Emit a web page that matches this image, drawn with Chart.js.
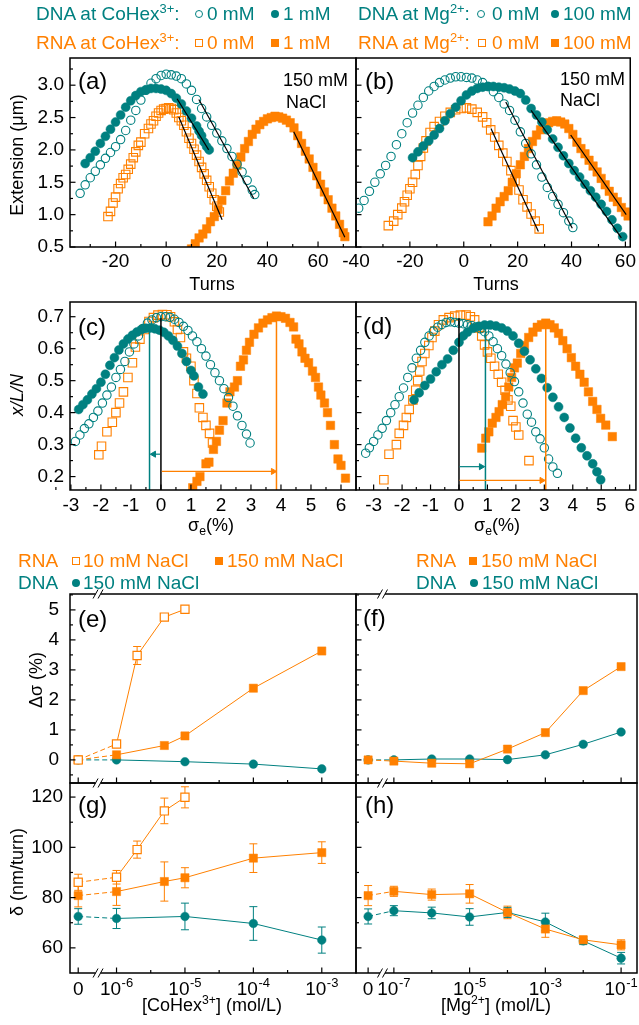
<!DOCTYPE html>
<html lang="en">
<head>
<meta charset="UTF-8">
<title>DNA / RNA twist response</title>
<script src="https://cdn.jsdelivr.net/npm/chart.js"></script>
<style>
  body { margin: 0; background: #fff; }
  #page { position: relative; width: 639px; height: 1025px; overflow: hidden; background: #fff;
          font-family: "Liberation Sans", Arial, sans-serif; }
  canvas { position: absolute; left: 0; top: 0; }
  .t { position: absolute; white-space: nowrap; line-height: 1; font-size: 18px; color: #000;
       transform: translate(-50%, -50%); }
  .r { transform: translate(-50%, -50%) rotate(-90deg); }
  .l { position: absolute; white-space: nowrap; line-height: 1; font-size: 19px; transform: translateY(-50%); }
  .p { position: absolute; white-space: nowrap; line-height: 1; font-size: 24px; transform: translateY(-50%); }
  sup { font-size: 0.68em; vertical-align: 0; position: relative; top: -0.55em; }
  sub { font-size: 0.68em; vertical-align: 0; position: relative; top: 0.3em; }
  .s { position: absolute; width: 8px; height: 8px; box-sizing: border-box; transform: translateY(-50%); }
</style>
</head>
<body>
<div id="page">
  <canvas id="ca" width="639" height="1025"></canvas>
  <canvas id="cb" width="639" height="1025"></canvas>
  <canvas id="cc" width="639" height="1025"></canvas>
  <canvas id="cd" width="639" height="1025"></canvas>
  <canvas id="ce" width="639" height="1025"></canvas>
  <canvas id="cf" width="639" height="1025"></canvas>
  <canvas id="cg" width="639" height="1025"></canvas>
  <canvas id="ch" width="639" height="1025"></canvas>

  <!-- top legends -->
  <div class="l" style="left:36px;top:13px;color:#008080">DNA at CoHex<sup>3+</sup>:</div>
  <div class="s" style="left:195px;top:14px;border:1.3px solid #008080;border-radius:50%"></div>
  <div class="l" style="left:207px;top:13px;color:#008080">0 mM</div>
  <div class="s" style="left:271px;top:14px;background:#008080;border-radius:50%"></div>
  <div class="l" style="left:283px;top:13px;color:#008080">1 mM</div>
  <div class="l" style="left:36px;top:42px;color:#ff8000">RNA at CoHex<sup>3+</sup>:</div>
  <div class="s" style="left:195px;top:43px;border:1.3px solid #ff8000"></div>
  <div class="l" style="left:207px;top:42px;color:#ff8000">0 mM</div>
  <div class="s" style="left:271px;top:43px;background:#ff8000"></div>
  <div class="l" style="left:283px;top:42px;color:#ff8000">1 mM</div>

  <div class="l" style="left:358px;top:13px;color:#008080">DNA at Mg<sup>2+</sup>:</div>
  <div class="s" style="left:477px;top:14px;border:1.3px solid #008080;border-radius:50%"></div>
  <div class="l" style="left:492px;top:13px;color:#008080">0 mM</div>
  <div class="s" style="left:551px;top:14px;background:#008080;border-radius:50%"></div>
  <div class="l" style="left:563px;top:13px;color:#008080">100 mM</div>
  <div class="l" style="left:358px;top:42px;color:#ff8000">RNA at Mg<sup>2+</sup>:</div>
  <div class="s" style="left:478px;top:43px;border:1.3px solid #ff8000"></div>
  <div class="l" style="left:492px;top:42px;color:#ff8000">0 mM</div>
  <div class="s" style="left:551px;top:43px;background:#ff8000"></div>
  <div class="l" style="left:563px;top:42px;color:#ff8000">100 mM</div>

  <!-- middle legends -->
  <div class="l" style="left:18px;top:560px;color:#ff8000">RNA</div>
  <div class="s" style="left:72px;top:561px;border:1.3px solid #ff8000"></div>
  <div class="l" style="left:83px;top:560px;color:#ff8000">10 mM NaCl</div>
  <div class="s" style="left:215px;top:561px;background:#ff8000"></div>
  <div class="l" style="left:227px;top:560px;color:#ff8000">150 mM NaCl</div>
  <div class="l" style="left:18px;top:582px;color:#008080">DNA</div>
  <div class="s" style="left:72px;top:583px;background:#008080;border-radius:50%"></div>
  <div class="l" style="left:83px;top:582px;color:#008080">150 mM NaCl</div>

  <div class="l" style="left:416px;top:560px;color:#ff8000">RNA</div>
  <div class="s" style="left:469px;top:561px;background:#ff8000"></div>
  <div class="l" style="left:481px;top:560px;color:#ff8000">150 mM NaCl</div>
  <div class="l" style="left:416px;top:582px;color:#008080">DNA</div>
  <div class="s" style="left:470px;top:583px;background:#008080;border-radius:50%"></div>
  <div class="l" style="left:482px;top:582px;color:#008080">150 mM NaCl</div>

  <!-- panel letters and notes -->
  <div class="p" style="left:78px;top:81px">(a)</div>
  <div class="p" style="left:365px;top:81px">(b)</div>
  <div class="p" style="left:78px;top:327px">(c)</div>
  <div class="p" style="left:363px;top:326px">(d)</div>
  <div class="p" style="left:78px;top:619px">(e)</div>
  <div class="p" style="left:363px;top:618px">(f)</div>
  <div class="p" style="left:78px;top:805px">(g)</div>
  <div class="p" style="left:365px;top:805px">(h)</div>
  <div class="l" style="left:283px;top:80px;font-size:18px">150 mM</div>
  <div class="l" style="left:286px;top:102px;font-size:18px">NaCl</div>
  <div class="l" style="left:560px;top:79px;font-size:18px">150 mM</div>
  <div class="l" style="left:560px;top:100px;font-size:18px">NaCl</div>

  <!-- axis titles -->
  <div class="t r" style="left:17px;top:155px">Extension (μm)</div>
  <div class="t" style="left:212px;top:284px">Turns</div>
  <div class="t" style="left:496px;top:284px">Turns</div>
  <div class="t r" style="left:17px;top:395px;font-style:italic">x/L/N</div>
  <div class="t" style="left:211px;top:525px">σ<sub>e</sub>(%)</div>
  <div class="t" style="left:497px;top:525px">σ<sub>e</sub>(%)</div>
  <div class="t r" style="left:36px;top:680px">Δσ (%)</div>
  <div class="t r" style="left:17px;top:872px">δ (nm/turn)</div>
  <div class="t" style="left:212px;top:1005px">[CoHex<sup>3+</sup>] (mol/L)</div>
  <div class="t" style="left:496px;top:1005px">[Mg<sup>2+</sup>] (mol/L)</div>
</div>

<script>
// ---- (a) extension vs turns, CoHex ----
const aDna0 = [[-34,1.33],[-32,1.46],[-30,1.57],[-28,1.67],[-26,1.77],[-24,1.87],[-22,1.96],[-20,2.05],[-18,2.16],[-16,2.30],[-14,2.46],[-12,2.61],[-10,2.77],[-8,2.92],[-6,3.03],[-4,3.10],[-2,3.15],[0,3.17],[2,3.16],[4,3.14],[6,3.10],[8,3.02],[10,2.92],[12,2.78],[14,2.64],[16,2.51],[18,2.38],[20,2.26],[22,2.14],[24,2.02],[26,1.90],[28,1.78],[30,1.66],[32,1.53],[34,1.38],[35,1.31]];
const aDna1 = [[-32,1.79],[-30,1.88],[-28,1.98],[-26,2.10],[-24,2.21],[-22,2.32],[-20,2.43],[-18,2.54],[-16,2.66],[-14,2.76],[-12,2.84],[-10,2.90],[-8,2.93],[-6,2.95],[-4,2.95],[-2,2.94],[0,2.92],[2,2.87],[4,2.80],[6,2.71],[8,2.60],[10,2.49],[12,2.37],[13,2.29],[14,2.22],[15,2.12],[16,2.05],[17,2.00]];
const aRna0 = [[-23,0.97],[-22,1.05],[-21,1.18],[-20,1.27],[-19,1.40],[-18,1.48],[-17,1.57],[-16,1.62],[-15,1.70],[-14,1.78],[-13,1.88],[-12,1.97],[-11,2.07],[-10,2.12],[-8.5,2.25],[-7,2.33],[-6,2.40],[-5,2.45],[-4,2.52],[-3,2.57],[-2,2.61],[-1,2.63],[0,2.64],[1,2.65],[2,2.64],[3,2.62],[4,2.57],[5,2.50],[6,2.45],[7,2.38],[8,2.28],[9,2.18],[10,2.10],[11,2.01],[12,1.92],[13,1.82],[14,1.73],[15,1.63],[16,1.53],[17,1.43],[18,1.33],[19,1.23],[20,1.13],[21,1.04]];
const aRna1 = [[10,0.47],[11.5,0.55],[13,0.64],[14.5,0.70],[16,0.78],[17.5,0.89],[19,0.97],[20.5,1.08],[22,1.22],[23.5,1.37],[25,1.52],[26.5,1.64],[28,1.76],[29.5,1.89],[31,2.02],[32.5,2.13],[34,2.24],[35.5,2.32],[37,2.39],[38.5,2.44],[40,2.48],[41.5,2.50],[43,2.52],[44.5,2.51],[46,2.49],[47.5,2.46],[49,2.42],[50.5,2.34],[52,2.22],[53.5,2.10],[55,1.98],[56.5,1.86],[58,1.73],[59.5,1.60],[61,1.47],[62.5,1.35],[64,1.23],[65.5,1.10],[67,0.98],[68.5,0.85],[70,0.72],[70.6,0.66]];
const aFitDna1 = [[4.3,2.79],[16.8,2.00]];
const aFitDna0 = [[12.9,2.78],[34.6,1.25]];
const aFitRna0 = [[5,2.51],[22.1,0.92]];
const aFitRna1 = [[50.4,2.28],[70.6,0.65]];

// ---- (b) extension vs turns, Mg ----
const bDna0 = [[-39,1.10],[-37,1.22],[-35,1.36],[-33,1.50],[-31,1.63],[-29,1.76],[-27,1.90],[-25,2.08],[-23,2.25],[-21,2.42],[-19,2.57],[-17,2.69],[-15,2.81],[-13,2.91],[-11,2.98],[-9,3.04],[-7,3.08],[-5,3.11],[-3,3.13],[-1,3.13],[1,3.12],[3,3.11],[5,3.08],[7,3.04],[9,2.98],[11,2.90],[13,2.81],[15,2.71],[17,2.61],[19,2.46],[21,2.28],[23,2.10],[25,1.94],[27,1.77],[29,1.58],[31,1.42],[33,1.28],[35,1.16],[37,1.03],[39,0.90],[40.5,0.80]];
const bDna100 = [[-19,1.88],[-17,1.97],[-15,2.06],[-13,2.14],[-11,2.23],[-9,2.33],[-7,2.45],[-5,2.56],[-3,2.66],[-1,2.76],[1,2.85],[3,2.91],[5,2.95],[7,2.97],[9,2.98],[11,2.98],[13,2.97],[15,2.96],[17,2.94],[19,2.91],[21,2.87],[23,2.77],[25,2.64],[27,2.54],[29,2.43],[31,2.31],[33,2.17],[35,2.04],[37,1.91],[39,1.79],[41,1.68],[43,1.58],[45,1.47],[47,1.37],[49,1.27],[51,1.16],[53,1.05],[55,0.92],[57,0.79],[59,0.66]];
const bRna0 = [[-28,0.83],[-26,0.90],[-24.5,1.00],[-23,1.10],[-22,1.20],[-21,1.30],[-20,1.40],[-19,1.50],[-18,1.62],[-17,1.76],[-16,1.90],[-15,2.03],[-14,2.14],[-12.5,2.27],[-11,2.36],[-9,2.44],[-7,2.52],[-5,2.58],[-3,2.62],[-1,2.64],[1,2.65],[3,2.63],[5,2.58],[7,2.51],[8.5,2.42],[10,2.31],[11.5,2.20],[13,2.07],[14.5,1.95],[16,1.82],[17.5,1.68],[19,1.53],[20.5,1.38],[22,1.23],[23.5,1.12],[25,1.01],[26.5,0.90],[28,0.78]];
const bRna100 = [[9,0.89],[10.5,0.98],[12,1.10],[13.5,1.20],[15,1.28],[16.5,1.37],[18,1.50],[19.5,1.63],[21,1.77],[22.5,1.90],[24,2.02],[25.5,2.13],[27,2.23],[28.5,2.31],[30,2.38],[31.5,2.42],[33,2.44],[34.5,2.45],[36,2.43],[37.5,2.40],[39,2.33],[40.5,2.24],[42,2.12],[43.5,2.02],[45,1.94],[46.5,1.84],[48,1.75],[49.5,1.66],[51,1.56],[52.5,1.46],[54,1.36],[55.5,1.27],[57,1.20],[58.5,1.11],[60,1.04],[61,0.98]];
const bFitRna0 = [[10.1,2.33],[27.7,0.74]];
const bFitDna0 = [[15.6,2.74],[40.3,0.79]];
const bFitDna100 = [[25,2.61],[58.5,0.64]];
const bFitRna100 = [[39.7,2.23],[60.3,1.00]];

// ---- (c) normalised extension vs sigma_e, CoHex ----
const cDna0 = [[-2.85,0.31],[-2.7,0.33],[-2.55,0.35],[-2.4,0.365],[-2.25,0.385],[-2.1,0.405],[-1.95,0.43],[-1.8,0.455],[-1.65,0.48],[-1.5,0.51],[-1.35,0.535],[-1.2,0.56],[-1.05,0.59],[-0.9,0.615],[-0.75,0.64],[-0.6,0.663],[-0.45,0.68],[-0.3,0.69],[-0.15,0.697],[0,0.70],[0.15,0.70],[0.3,0.698],[0.45,0.692],[0.6,0.682],[0.75,0.67],[0.9,0.657],[1.05,0.64],[1.2,0.622],[1.35,0.60],[1.5,0.577],[1.65,0.55],[1.8,0.525],[1.95,0.50],[2.1,0.475],[2.25,0.447],[2.4,0.42],[2.55,0.39],[2.7,0.36],[2.85,0.333],[2.97,0.305]];
const cDna1 = [[-2.74,0.41],[-2.6,0.425],[-2.45,0.44],[-2.3,0.458],[-2.15,0.475],[-2.0,0.495],[-1.85,0.52],[-1.7,0.548],[-1.55,0.572],[-1.4,0.596],[-1.25,0.615],[-1.1,0.63],[-0.95,0.642],[-0.8,0.652],[-0.65,0.66],[-0.5,0.664],[-0.35,0.665],[-0.2,0.662],[-0.05,0.658],[0.1,0.651],[0.25,0.64],[0.4,0.626],[0.55,0.608],[0.7,0.585],[0.85,0.56],[1.0,0.532],[1.1,0.515],[1.25,0.48],[1.4,0.458]];
const cRna0 = [[-2.07,0.268],[-1.98,0.295],[-1.8,0.34],[-1.62,0.37],[-1.5,0.40],[-1.38,0.43],[-1.25,0.465],[-1.1,0.51],[-0.95,0.556],[-0.85,0.605],[-0.7,0.63],[-0.55,0.66],[-0.4,0.685],[-0.25,0.697],[-0.1,0.705],[0.05,0.707],[0.2,0.706],[0.32,0.70],[0.45,0.684],[0.55,0.66],[0.65,0.635],[0.75,0.59],[0.85,0.57],[1.0,0.545],[1.1,0.50],[1.2,0.46],[1.28,0.415],[1.4,0.385],[1.5,0.36],[1.62,0.335],[1.72,0.305]];
const cRna1 = [[1.06,0.165],[1.2,0.185],[1.3,0.20],[1.5,0.24],[1.6,0.245],[1.75,0.285],[1.85,0.31],[1.95,0.345],[2.07,0.375],[2.2,0.43],[2.3,0.465],[2.45,0.48],[2.55,0.50],[2.65,0.545],[2.75,0.565],[2.85,0.595],[2.95,0.62],[3.1,0.645],[3.25,0.665],[3.4,0.68],[3.55,0.69],[3.7,0.697],[3.85,0.702],[4.0,0.70],[4.15,0.695],[4.3,0.682],[4.42,0.668],[4.5,0.63],[4.6,0.615],[4.7,0.59],[4.8,0.57],[4.92,0.556],[5.05,0.53],[5.15,0.51],[5.25,0.48],[5.33,0.455],[5.45,0.43],[5.55,0.40],[5.65,0.36],[5.78,0.30],[5.9,0.255],[6.0,0.235],[6.15,0.195]];
const cLineBlack = [[0,0.695],[0,0.158]];
const cLineTeal = [[-0.38,0.66],[-0.38,0.158]];
const cLineOrange = [[3.85,0.70],[3.85,0.158]];
const cArrowTeal = [[-0.03,0.27],[-0.24,0.27]];
const cArrowOrange = [[0.03,0.216],[3.74,0.216]];

// ---- (d) normalised extension vs sigma_e, Mg ----
const dDna0 = [[-3.28,0.273],[-3.15,0.29],[-3.0,0.31],[-2.85,0.33],[-2.7,0.351],[-2.55,0.375],[-2.4,0.40],[-2.25,0.425],[-2.1,0.45],[-1.95,0.477],[-1.8,0.51],[-1.65,0.54],[-1.5,0.57],[-1.35,0.595],[-1.2,0.62],[-1.05,0.64],[-0.9,0.655],[-0.75,0.667],[-0.6,0.676],[-0.45,0.682],[-0.3,0.684],[-0.15,0.682],[0,0.68],[0.15,0.678],[0.3,0.675],[0.45,0.672],[0.6,0.668],[0.75,0.662],[0.9,0.653],[1.05,0.64],[1.2,0.622],[1.35,0.60],[1.5,0.578],[1.65,0.552],[1.8,0.525],[1.95,0.497],[2.1,0.465],[2.25,0.43],[2.4,0.395],[2.55,0.37],[2.7,0.34],[2.85,0.318],[3.0,0.29],[3.15,0.255],[3.3,0.23],[3.46,0.21]];
const dDna100 = [[-1.58,0.44],[-1.4,0.462],[-1.2,0.485],[-1.0,0.505],[-0.8,0.528],[-0.6,0.55],[-0.4,0.568],[-0.2,0.595],[0,0.62],[0.15,0.64],[0.3,0.652],[0.5,0.664],[0.7,0.67],[0.9,0.674],[1.1,0.674],[1.3,0.671],[1.5,0.665],[1.7,0.655],[1.9,0.64],[2.1,0.617],[2.3,0.592],[2.5,0.565],[2.7,0.537],[2.9,0.507],[3.1,0.478],[3.3,0.448],[3.5,0.418],[3.7,0.385],[3.9,0.352],[4.1,0.32],[4.3,0.29],[4.5,0.265],[4.7,0.24],[4.85,0.215],[4.98,0.19]];
const dRna0 = [[-2.64,0.19],[-2.46,0.27],[-2.2,0.30],[-2.1,0.335],[-1.95,0.36],[-1.85,0.385],[-1.75,0.41],[-1.62,0.44],[-1.52,0.47],[-1.45,0.50],[-1.38,0.53],[-1.3,0.56],[-1.2,0.585],[-1.06,0.61],[-0.95,0.635],[-0.85,0.655],[-0.72,0.675],[-0.55,0.69],[-0.35,0.697],[-0.15,0.702],[0.05,0.705],[0.25,0.705],[0.4,0.70],[0.55,0.69],[0.7,0.665],[0.8,0.64],[0.9,0.612],[1.0,0.59],[1.12,0.57],[1.25,0.545],[1.38,0.52],[1.5,0.495],[1.62,0.47],[1.72,0.44],[1.82,0.42],[1.9,0.375],[2.0,0.355],[2.1,0.33],[2.46,0.25]];
const dRna100 = [[0.8,0.289],[0.94,0.32],[1.05,0.34],[1.17,0.367],[1.3,0.385],[1.41,0.403],[1.52,0.425],[1.64,0.45],[1.75,0.48],[1.85,0.51],[1.95,0.54],[2.05,0.555],[2.17,0.585],[2.3,0.61],[2.45,0.635],[2.6,0.652],[2.75,0.667],[2.9,0.675],[3.05,0.68],[3.2,0.675],[3.35,0.665],[3.5,0.648],[3.65,0.625],[3.8,0.60],[3.95,0.572],[4.1,0.545],[4.25,0.52],[4.4,0.495],[4.55,0.465],[4.7,0.435],[4.85,0.41],[4.98,0.382],[5.16,0.361],[5.39,0.325]];
const dLineBlack = [[0,0.695],[0,0.158]];
const dLineTeal = [[0.93,0.672],[0.93,0.158]];
const dLineOrange = [[3.05,0.68],[3.05,0.158]];
const dArrowTeal = [[0.02,0.231],[0.78,0.231]];
const dArrowOrange = [[0.02,0.188],[2.91,0.188]];

// ---- (e)-(h) concentration series ----
const rna10Conc = [0, 1e-6, 2e-6, 5e-6, 1e-5];
const rna150Conc = [0, 1e-6, 5e-6, 1e-5, 1e-4, 1e-3];
const dnaCoConc = [0, 1e-6, 1e-5, 1e-4, 1e-3];
const mgConc = [0, 1e-7, 1e-6, 1e-5, 1e-4, 1e-3, 1e-2, 1e-1];

const rna10Dsig = [0, 0.53, 3.48, 4.76, 5.02];
const rna10DsigErr = [0, 0, 0.3, 0.1, 0];
const rna150Dsig = [0, 0.17, 0.48, 0.80, 2.39, 3.63];
const dnaCoDsig = [0, 0, -0.06, -0.14, -0.30];
const rnaMgDsig = [0, -0.04, -0.11, -0.13, 0.36, 0.91, 2.31, 3.11];
const dnaMgDsig = [0, 0, 0.03, 0.03, 0.01, 0.17, 0.52, 0.93];

const rna10Delta = [86.1, 88.1, 99.1, 114.5, 119.9];
const rna10DeltaErr = [3.2, 2.7, 3.4, 5.1, 4.2];
const rna150Delta = [80.8, 82.4, 86.4, 87.9, 95.7, 97.9];
const rna150DeltaErr = [4.5, 5.5, 7.8, 4.0, 5.7, 4.3];
const dnaCoDelta = [72.5, 71.7, 72.5, 69.7, 63.1];
const dnaCoDeltaErr = [3.1, 4.0, 5.3, 6.7, 5.2];
const rnaMgDelta = [80.8, 82.5, 81.2, 81.5, 74.1, 67.5, 63.2, 61.2];
const rnaMgDeltaErr = [4.0, 2.0, 2.2, 3.7, 2.5, 3.3, 1.5, 2.0];
const dnaMgDelta = [72.5, 74.8, 73.9, 72.3, 74.1, 70.3, 62.8, 55.9];
const dnaMgDeltaErr = [3.0, 2.0, 2.3, 3.3, 2.0, 3.5, 1.5, 2.3];

// ---- tick values ----
const turnsTicksA = [-20, 0, 20, 40, 60];
const turnsMinorA = [-30, -10, 10, 30, 50, 70];
const turnsTicksB = [-40, -20, 0, 20, 40, 60];
const turnsMinorB = [-30, -10, 10, 30, 50];
const extTicks = [0.5, 1.0, 1.5, 2.0, 2.5, 3.0];
const extMinor = [0.75, 1.25, 1.75, 2.25, 2.75, 3.25];
const sigTicks = [-3, -2, -1, 0, 1, 2, 3, 4, 5, 6];
const sigMinor = [-3.5, -2.5, -1.5, -0.5, 0.5, 1.5, 2.5, 3.5, 4.5, 5.5];
const xlnTicks = [0.2, 0.3, 0.4, 0.5, 0.6, 0.7];
const xlnMinor = [0.25, 0.35, 0.45, 0.55, 0.65];
const dsigTicks = [0, 1, 2, 3, 4, 5];
const dsigMinor = [-0.5, 0.5, 1.5, 2.5, 3.5, 4.5, 5.5];
const deltaTicks = [60, 80, 100, 120];
const deltaMinor = [70, 90, 110];
const cohexExp = [-6, -5, -4, -3];
const cohexMinorExp = [-5.5, -4.5, -3.5];
const mgExp = [-7, -5, -3, -1];
const mgMinorExp = [-6, -4, -2];

// broken log axes: the zero point sits left of the break
const CO_ZERO = -6.56, CO_BREAK = -6.27;
const MG_ZERO = -7.68, MG_BREAK = -7.3;
const posCo = c => c === 0 ? CO_ZERO : Math.log10(c);
const posMg = c => c === 0 ? MG_ZERO : Math.log10(c);

const TEAL = '#008080', ORANGE = '#ff8000';
const FONT = '"Liberation Sans", Arial, sans-serif';
Chart.defaults.font.family = FONT;
Chart.defaults.color = '#000';

function brk(ctx, x, y) {
  ctx.save();
  ctx.fillStyle = '#fff';
  ctx.fillRect(x - 2.5, y - 2, 5, 4);
  ctx.strokeStyle = '#000';
  ctx.lineWidth = 1;
  [-2.5, 2.5].forEach(d => {
    ctx.beginPath();
    ctx.moveTo(x + d - 2.5, y + 4.5);
    ctx.lineTo(x + d + 2.5, y - 4.5);
    ctx.stroke();
  });
  ctx.restore();
}

const frame = {
  id: 'frame',
  beforeDatasetsDraw(chart) {
    const ctx = chart.ctx, ys = chart.scales.y;
    chart.data.datasets.forEach((ds, i) => {
      if (!ds.errors) return;
      const meta = chart.getDatasetMeta(i);
      ctx.save();
      ctx.strokeStyle = ds.borderColor;
      ctx.lineWidth = 1;
      meta.data.forEach((pt, j) => {
        const e = ds.errors[j];
        if (!e) return;
        const v = ds.data[j].y;
        const t = ys.getPixelForValue(v + e), b = ys.getPixelForValue(v - e);
        ctx.beginPath();
        ctx.moveTo(pt.x, t); ctx.lineTo(pt.x, b);
        ctx.moveTo(pt.x - 4, t); ctx.lineTo(pt.x + 4, t);
        ctx.moveTo(pt.x - 4, b); ctx.lineTo(pt.x + 4, b);
        ctx.stroke();
      });
      ctx.restore();
    });
  },
  afterDraw(chart, args, o) {
    const {ctx, chartArea: a} = chart;
    const xs = chart.scales.x, ys = chart.scales.y;
    ctx.save();
    ctx.strokeStyle = '#000';
    ctx.lineWidth = 1.5;
    ctx.strokeRect(a.left, a.top, a.right - a.left, a.bottom - a.top);
    ctx.lineWidth = 1.2;
    const tick = (px, py, dx, dy) => {
      ctx.beginPath(); ctx.moveTo(px, py); ctx.lineTo(px + dx, py + dy); ctx.stroke();
    };
    (o.xMajor || []).forEach(v => tick(xs.getPixelForValue(v), a.bottom, 0, -5.5));
    (o.xMinor || []).forEach(v => tick(xs.getPixelForValue(v), a.bottom, 0, -3));
    (o.yMajor || []).forEach(v => tick(a.left, ys.getPixelForValue(v), 5.5, 0));
    (o.yMinor || []).forEach(v => tick(a.left, ys.getPixelForValue(v), 3, 0));
    if (o.breakAt !== undefined) {
      const bx = xs.getPixelForValue(o.breakAt);
      if (o.breakTop) brk(ctx, bx, a.top);
      if (o.breakBottom) brk(ctx, bx, a.bottom);
    }
    if (o.logLabels) {
      // "10" with a raised exponent, whole label centred on its tick
      ctx.fillStyle = '#000';
      ctx.textBaseline = 'middle';
      ctx.textAlign = 'left';
      const y0 = a.bottom + 17;
      o.logLabels.forEach(L => {
        const px = xs.getPixelForValue(L.v);
        ctx.font = '19px ' + FONT;
        const wb = ctx.measureText(L.base).width;
        let we = 0;
        if (L.exp) {
          ctx.font = '13px ' + FONT;
          we = ctx.measureText(L.exp).width + 0.5;
        }
        const x0 = px - (wb + we) / 2;
        ctx.font = '19px ' + FONT;
        ctx.fillText(L.base, x0, y0);
        if (L.exp) {
          ctx.font = '13px ' + FONT;
          ctx.fillText(L.exp, x0 + wb + 0.5, y0 - 7);
        }
      });
    }
    ctx.restore();
  }
};
Chart.register(frame);

const xy = arr => arr.map(p => ({x: p[0], y: p[1]}));

function marks(arr, shape, color, filled, r) {
  return {data: xy(arr), showLine: false, pointStyle: shape, pointRadius: r,
    pointBorderColor: color, pointBackgroundColor: filled ? color : 'rgba(0,0,0,0)',
    pointBorderWidth: filled ? 0.5 : 1.1, clip: 0};
}
function seg(arr, color, w) {
  return {data: xy(arr), showLine: true, pointRadius: 0, borderColor: color, borderWidth: w || 1.2, clip: 0};
}
function arrow(arr, color, rot) {
  return {data: xy(arr), showLine: true, borderColor: color, borderWidth: 1.2,
    pointRadius: [0, 3.5], pointStyle: 'triangle', pointRotation: [0, rot],
    pointBackgroundColor: color, pointBorderColor: color, pointBorderWidth: 1, clip: 0};
}
function conc(cs, vals, errs, pos, shape, color, filled) {
  return {data: cs.map((c, i) => ({x: pos(c), y: vals[i]})), errors: errs, showLine: true,
    borderColor: color, borderWidth: 1, pointStyle: shape, pointRadius: shape === 'rect' ? 5.8 : 4.3,
    pointBorderColor: color, pointBackgroundColor: filled ? color : '#fff',
    pointBorderWidth: filled ? 0.5 : 1.2,
    segment: {borderDash: c => c.p0DataIndex === 0 ? [5, 3] : undefined}, clip: 0};
}

function axis(min, max, ticks, show, pad, fmt) {
  return {
    type: 'linear', min, max,
    grid: {display: false, drawTicks: false},
    border: {display: false},
    ticks: {display: show, autoSkip: false, maxRotation: 0, padding: pad,
      font: {size: 19}, color: '#000', callback: fmt || (v => String(v))},
    afterBuildTicks: s => { s.ticks = ticks.map(v => ({value: v})); }
  };
}

const AXH = 40;
function panel(id, box, datasets, xAx, yAx, fr) {
  return new Chart(document.getElementById(id), {
    type: 'scatter',
    data: {datasets},
    options: {
      responsive: false, animation: false, events: [],
      layout: {autoPadding: false,
        padding: {left: 0, top: box[1], right: 639 - box[2], bottom: 1025 - box[3] - AXH}},
      plugins: {legend: {display: false}, tooltip: {enabled: false}, frame: fr},
      scales: {
        x: Object.assign(xAx, {afterFit: s => { s.height = AXH; }}),
        y: Object.assign(yAx, {afterFit: s => { s.width = box[0]; }})
      }
    }
  });
}

const f1 = v => v.toFixed(1);

panel('ca', [70, 58, 356, 247], [
  seg(aFitDna1, '#000'), seg(aFitDna0, '#000'), seg(aFitRna0, '#000'), seg(aFitRna1, '#000'),
  marks(aDna1, 'circle', TEAL, true, 4.5),
  marks(aDna0, 'circle', TEAL, false, 4.2),
  marks(aRna0, 'rect', ORANGE, false, 6),
  marks(aRna1, 'rect', ORANGE, true, 6)
], axis(-38, 75, turnsTicksA, true, 3), axis(0.5, 3.42, extTicks, true, 6, f1),
  {xMajor: turnsTicksA, xMinor: turnsMinorA, yMajor: extTicks, yMinor: extMinor});

panel('cb', [356, 58, 637, 247], [
  seg(bFitRna0, '#000'), seg(bFitDna0, '#000'), seg(bFitDna100, '#000'), seg(bFitRna100, '#000'),
  marks(bDna100, 'circle', TEAL, true, 4.5),
  marks(bDna0, 'circle', TEAL, false, 4.2),
  marks(bRna0, 'rect', ORANGE, false, 6),
  marks(bRna100, 'rect', ORANGE, true, 6)
], axis(-40, 61.8, turnsTicksB, true, 3), axis(0.5, 3.42, extTicks, false, 6),
  {xMajor: turnsTicksB, xMinor: turnsMinorB, yMajor: extTicks, yMinor: extMinor});

panel('cc', [70, 302, 356, 490], [
  arrow(cArrowTeal, TEAL, -90), arrow(cArrowOrange, ORANGE, 90),
  seg(cLineBlack, '#000', 1.5), seg(cLineTeal, TEAL, 1.5), seg(cLineOrange, ORANGE, 1.5),
  marks(cDna1, 'circle', TEAL, true, 4.5),
  marks(cDna0, 'circle', TEAL, false, 4.2),
  marks(cRna0, 'rect', ORANGE, false, 6),
  marks(cRna1, 'rect', ORANGE, true, 6)
], axis(-3.03, 6.5, sigTicks, true, 4), axis(0.158, 0.746, xlnTicks, true, 6, f1),
  {xMajor: sigTicks, xMinor: sigMinor, yMajor: xlnTicks, yMinor: xlnMinor});

panel('cd', [356, 302, 637, 490], [
  arrow(dArrowTeal, TEAL, 90), arrow(dArrowOrange, ORANGE, 90),
  seg(dLineBlack, '#000', 1.5), seg(dLineTeal, TEAL, 1.5), seg(dLineOrange, ORANGE, 1.5),
  marks(dDna100, 'circle', TEAL, true, 4.5),
  marks(dDna0, 'circle', TEAL, false, 4.2),
  marks(dRna0, 'rect', ORANGE, false, 6),
  marks(dRna100, 'rect', ORANGE, true, 6)
], axis(-3.62, 6.22, sigTicks, true, 4), axis(0.158, 0.746, xlnTicks, false, 6),
  {xMajor: sigTicks, xMinor: sigMinor, yMajor: xlnTicks, yMinor: xlnMinor});

const coMajor = [CO_ZERO].concat(cohexExp);
const mgMajor = [MG_ZERO].concat(mgExp);

panel('ce', [70, 594, 356, 783], [
  conc(rna10Conc, rna10Dsig, rna10DsigErr, posCo, 'rect', ORANGE, false),
  conc(rna150Conc, rna150Dsig, null, posCo, 'rect', ORANGE, true),
  conc(dnaCoConc, dnaCoDsig, null, posCo, 'circle', TEAL, true)
], axis(-6.68, -2.5, coMajor, false, 4), axis(-0.77, 5.53, dsigTicks, true, 11),
  {xMajor: coMajor, xMinor: cohexMinorExp, yMajor: dsigTicks, yMinor: dsigMinor,
   breakAt: CO_BREAK, breakTop: true});

panel('cf', [356, 594, 637, 783], [
  conc(mgConc, rnaMgDsig, null, posMg, 'rect', ORANGE, true),
  conc(mgConc, dnaMgDsig, null, posMg, 'circle', TEAL, true)
], axis(-8.0, -0.58, mgMajor, false, 4), axis(-0.77, 5.53, dsigTicks, false, 11),
  {xMajor: mgMajor, xMinor: mgMinorExp, yMajor: dsigTicks, yMinor: dsigMinor,
   breakAt: MG_BREAK, breakTop: true});

panel('cg', [70, 783, 356, 973], [
  conc(rna10Conc, rna10Delta, rna10DeltaErr, posCo, 'rect', ORANGE, false),
  conc(rna150Conc, rna150Delta, rna150DeltaErr, posCo, 'rect', ORANGE, true),
  conc(dnaCoConc, dnaCoDelta, dnaCoDeltaErr, posCo, 'circle', TEAL, true)
], axis(-6.68, -2.5, coMajor, false, 4), axis(50, 125.6, deltaTicks, true, 7),
  {xMajor: coMajor, xMinor: cohexMinorExp, yMajor: deltaTicks, yMinor: deltaMinor,
   breakAt: CO_BREAK, breakTop: true, breakBottom: true,
   logLabels: [{v: CO_ZERO, base: '0'}].concat(cohexExp.map(e => ({v: e, base: '10', exp: String(e)})))});

panel('ch', [356, 783, 637, 973], [
  conc(mgConc, rnaMgDelta, rnaMgDeltaErr, posMg, 'rect', ORANGE, true),
  conc(mgConc, dnaMgDelta, dnaMgDeltaErr, posMg, 'circle', TEAL, true)
], axis(-8.0, -0.58, mgMajor, false, 4), axis(50, 125.6, deltaTicks, false, 7),
  {xMajor: mgMajor, xMinor: mgMinorExp, yMajor: deltaTicks, yMinor: deltaMinor,
   breakAt: MG_BREAK, breakTop: true, breakBottom: true,
   logLabels: [{v: MG_ZERO, base: '0'}].concat(mgExp.map(e => ({v: e, base: '10', exp: String(e)})))});
</script>
</body>
</html>
